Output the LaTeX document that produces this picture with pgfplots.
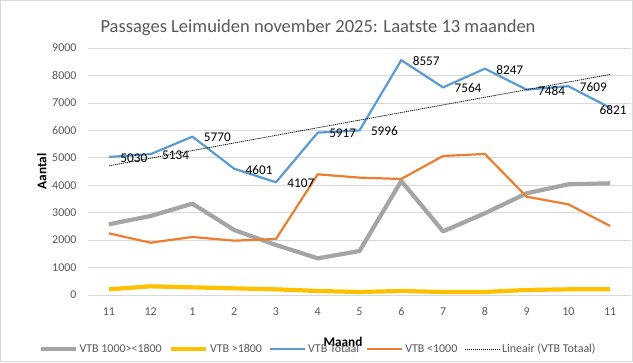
\documentclass[border=0pt]{standalone}
\usepackage{fontspec}
\setmainfont{Carlito}
\usepackage{pgfplots}
\pgfplotsset{compat=1.18}
\definecolor{cgray}{HTML}{A5A5A5}
\definecolor{cyellow}{HTML}{FFC000}
\definecolor{cblue}{HTML}{5B9BD5}
\definecolor{corange}{HTML}{ED7D31}
\definecolor{ctext}{HTML}{595959}
\definecolor{cgrid}{HTML}{D9D9D9}
\begin{document}
\begin{tikzpicture}[x=1bp,y=1bp]
\draw[cgrid, line width=0.75bp, fill=white] (0.5,0.5) rectangle (632.5,361.5);
\node[anchor=base, text=ctext, font=\fontsize{18.6}{22}\selectfont] at (318,329.5) {Passages Leimuiden november 2025: Laatste 13 maanden};
\begin{axis}[
  at={(88bp,67bp)}, anchor=south west,
  scale only axis, width=543bp, height=247bp,
  xmin=-0.5, xmax=12.5, ymin=0, ymax=9000,
  axis line style={draw=none},
  tick style={draw=none},
  major tick length=0pt,
  ytick={0,1000,...,9000},
  xtick={0,...,12},
  xticklabels={11,12,1,2,3,4,5,6,7,8,9,10,11},
  ymajorgrids,
  grid style={cgrid, line width=0.75bp},
  tick label style={font=\fontsize{12}{14}\selectfont, text=ctext},
  yticklabel style={xshift=-8bp},
  xticklabel style={yshift=-9bp},
  scaled y ticks=false,
  /pgf/number format/1000 sep={},
  /pgf/number format/assume math mode=true,
  xlabel={Maand},
  xlabel style={at={(axis description cs:0.4696,-0.190)}, anchor=center, font=\bfseries\fontsize{13.3}{15}\selectfont, text=black},
  ylabel={Aantal},
  ylabel style={at={(axis description cs:-0.0853,0.5)}, anchor=center, font=\bfseries\fontsize{13.3}{15}\selectfont, text=black},
  clip=false,
  legend columns=5,
  legend style={at={(axis description cs:0.4236,-0.2186)}, anchor=center, draw=none, fill=none,
    font=\fontsize{12}{14}\selectfont, text=ctext,
    /tikz/every even column/.append style={column sep=5bp},
    nodes={inner xsep=2bp}},
  legend image code/.code={\draw[#1] (0bp,0bp) -- (35bp,0bp);},
]
\addplot[cgray, line width=4.2bp, line join=round] coordinates {
(0,2577) (1,2879) (2,3328) (3,2369) (4,1822) (5,1337) (6,1603) (7,4155) (8,2320) (9,2977) (10,3706) (11,4034) (12,4070)};
\addlegendentry{VTB 1000><1800}
\addplot[cyellow, line width=4.2bp, line join=round] coordinates {
(0,207) (1,316) (2,279) (3,243) (4,207) (5,146) (6,110) (7,146) (8,110) (9,110) (10,183) (11,207) (12,207)};
\addlegendentry{VTB >1800}
\addplot[cblue, line width=2.2bp, line join=round] coordinates {
(0,5030) (1,5134) (2,5770) (3,4601) (4,4107) (5,5917) (6,5996) (7,8557) (8,7564) (9,8247) (10,7484) (11,7609) (12,6821)};
\addlegendentry{VTB Totaal}
\addplot[corange, line width=2.2bp, line join=round] coordinates {
(0,2248) (1,1906) (2,2114) (3,1980) (4,2041) (5,4398) (6,4276) (7,4228) (8,5066) (9,5139) (10,3583) (11,3304) (12,2515)};
\addlegendentry{VTB <1000}
\addplot[black, line width=0.75bp, dash pattern=on 1.2bp off 0.8bp] coordinates {(0,4708) (12,8036)};
\addlegendentry{Lineair (VTB Totaal)}
\addplot[draw=none, forget plot, nodes near coords, point meta=explicit symbolic,
  every node near coord/.append style={anchor=west, xshift=8bp, yshift=-1bp, font=\fontsize{13.3}{15}\selectfont, text=black}]
  coordinates {(0,5030)[5030] (1,5134)[5134] (2,5770)[5770] (3,4601)[4601] (4,4107)[4107] (5,5917)[5917] (6,5996)[5996] (7,8557)[8557] (8,7564)[7564] (9,8247)[8247] (10,7484)[7484] (11,7609)[7609]};
\addplot[draw=none, forget plot, nodes near coords, point meta=explicit symbolic,
  every node near coord/.append style={anchor=center, xshift=3bp, yshift=-2bp, font=\fontsize{13.3}{15}\selectfont, text=black}]
  coordinates {(12,6821)[6821]};
\end{axis}
\pgfresetboundingbox
\path (0,0) rectangle (633,362);
\end{tikzpicture}
\end{document}
